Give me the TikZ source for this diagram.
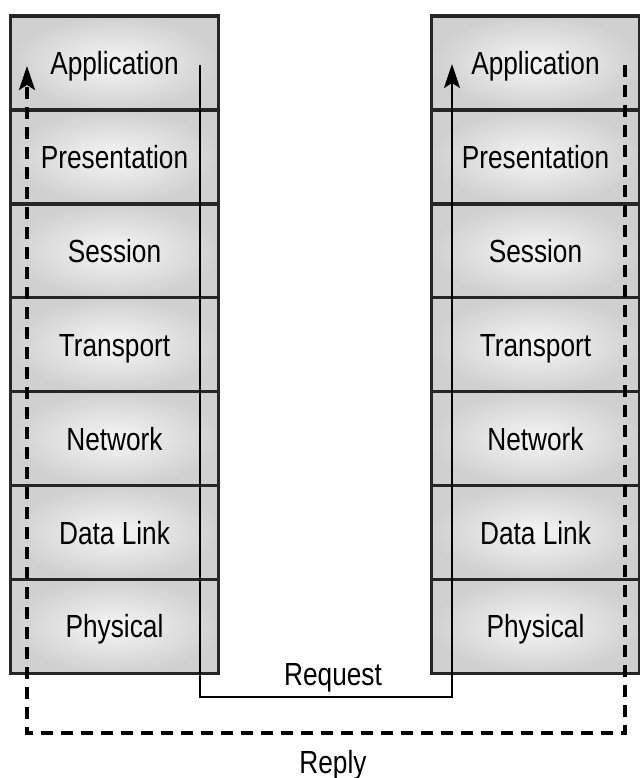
\documentclass[tikz,border=0pt]{standalone}
\usepackage{fontspec}
\setmainfont{Liberation Sans}[FakeStretch=0.82]
\usetikzlibrary{arrows.meta}
\definecolor{layeredge}{RGB}{208,208,208}
\definecolor{layermid}{RGB}{246,246,246}

\begin{document}
\begin{tikzpicture}[x=0.5pt,y=-0.5pt,
  layer/.style={draw=black!85,line width=1.7pt,inner color=layermid,outer color=layeredge,
    minimum width=104pt,minimum height=47pt,text height=11.5pt,text depth=0pt,
    font=\fontsize{16}{18}\selectfont},
  request/.style={line width=1.2pt,-{Stealth[length=12pt,width=8pt,inset=2.5pt]}},
  reply/.style={line width=1.6pt,dash pattern=on 6pt off 4pt,-{Stealth[length=12pt,width=8pt,inset=2.5pt]}},
  lbl/.style={font=\fontsize{16}{18}\selectfont}]
\useasboundingbox (0,0) rectangle (640,778);

% Left and right stacks
\foreach \name/\txt [count=\i from 0] in {app/Application,pre/Presentation,ses/Session,
    tra/Transport,net/Network,dat/Data Link,phy/Physical}{
  \node[layer] (\name L) at (114.5,{63+93.9*\i}) {\txt};
  \node[layer] (\name R) at (535.5,{63+93.9*\i}) {\txt};
}

% Request (solid)
\coordinate (reqA) at (200,65);
\coordinate (reqB) at (200,697);
\coordinate (reqC) at (452,697);
\coordinate (reqD) at (452,64);
\draw[request] (reqA) -- (reqB) -- (reqC) -- (reqD);
\node[lbl] (request) at (333,678) {Request};

% Reply (dashed)
\coordinate (repA) at (625,65);
\coordinate (repB) at (625,733);
\coordinate (repC) at (27,733);
\coordinate (repD) at (27,66);
\draw[reply] (repA) -- (repB) -- (repC) -- (repD);
\node[lbl] (reply) at (333,765) {Reply};
\end{tikzpicture}
\end{document}
